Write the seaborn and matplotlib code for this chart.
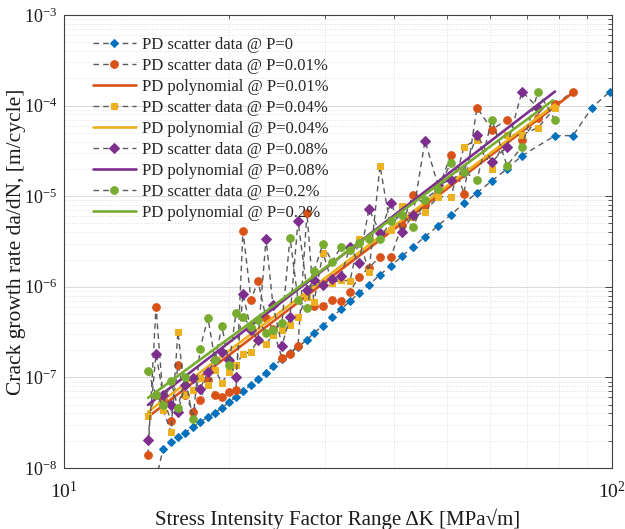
import matplotlib
matplotlib.use("Agg")
import matplotlib.pyplot as plt
from matplotlib.ticker import NullFormatter, FuncFormatter
import numpy as np
import pandas as pd
import seaborn as sns

# ---------------- data ----------------
K_grid = [14.23, 14.72, 15.16, 15.68, 16.14, 16.63, 17.20, 17.71, 18.31, 18.86,
          19.42, 20.00, 20.60, 21.21, 21.94, 22.59, 23.37, 24.06, 24.99, 25.85,
          26.73, 27.76, 28.59, 29.69, 30.84, 32.03, 33.26, 34.54, 36.02, 37.72,
          39.51, 41.39, 43.34, 45.58, 48.14, 50.84, 53.69, 56.70, 60.39, 64.33,
          68.51, 73.28, 78.70, 84.88]

K_p0 = [14.72, 15.16, 15.68, 16.14, 16.63, 17.20, 17.71, 18.31, 18.86, 19.42,
        20.00, 20.60, 21.21, 21.94, 22.59, 23.37, 24.06, 24.99, 25.85, 26.73,
        27.76, 28.59, 29.69, 30.84, 32.03, 33.26, 34.54, 36.02, 37.72, 39.51,
        41.39, 43.34, 45.58, 48.14, 50.84, 53.69, 56.70, 60.39, 64.33, 68.51,
        78.70, 84.88, 91.93, 99.17]
dadn_p0 = [7.4e-9, 1.62e-8, 1.94e-8, 2.20e-8, 2.44e-8, 2.84e-8, 3.22e-8, 3.66e-8, 4.05e-8, 4.60e-8,
           5.36e-8, 6.09e-8, 7.09e-8, 8.26e-8, 9.63e-8, 1.12e-7, 1.34e-7, 1.58e-7, 1.87e-7, 2.17e-7,
           2.60e-7, 3.10e-7, 3.71e-7, 4.60e-7, 5.64e-7, 6.92e-7, 8.58e-7, 1.05e-6, 1.36e-6, 1.71e-6,
           2.17e-6, 2.77e-6, 3.57e-6, 4.72e-6, 6.25e-6, 8.37e-6, 1.09e-5, 1.48e-5, 2.01e-5, 2.80e-5,
           4.66e-5, 4.66e-5, 9.51e-5, 1.43e-4]

dadn_p001 = [1.39e-8, 6.01e-7, 5.94e-8, 3.31e-8, 1.37e-7, 6.41e-8, 4.16e-8, 5.64e-8, 9.38e-8, 6.41e-8,
             6.09e-8, 6.91e-8, 7.28e-8, 4.16e-6, 7.18e-7, 1.16e-6, 4.54e-7, 3.43e-7, 1.64e-7, 1.82e-7,
             2.23e-7, 6.57e-6, 6.17e-7, 6.17e-7, 7.18e-7, 7.00e-7, 8.81e-7, 1.29e-6, 1.62e-6, 2.15e-6,
             2.15e-6, 4.84e-6, 1.04e-5, 8.05e-6, 1.18e-5, 2.87e-5, 1.07e-5, 9.50e-5, 5.43e-5, 7.00e-5,
             4.21e-5, 7.37e-5, 1.03e-4, 1.43e-4]

dadn_p004 = [3.76e-8, 6.41e-8, 4.37e-8, 2.50e-8, 3.18e-7, 6.41e-8, 7.28e-8, 9.87e-8, 8.26e-8, 1.21e-7,
             8.70e-8, 1.15e-7, 1.37e-7, 1.82e-7, 1.91e-7, 2.60e-7, 2.34e-7, 2.95e-7, 3.35e-7, 3.80e-7,
             4.66e-7, 7.75e-7, 6.83e-7, 2.38e-6, 1.11e-6, 1.19e-6, 1.16e-6, 3.39e-6, 1.46e-6, 2.17e-5,
             4.26e-6, 7.85e-6, 5.94e-6, 6.74e-6, 9.87e-6, 9.87e-6, 3.52e-5, 4.21e-5, 2.01e-5, 4.78e-5,
             4.78e-5, 5.71e-5, 9.50e-5]

dadn_p008 = [2.04e-8, 1.82e-7, 6.41e-8, 4.97e-8, 4.16e-8, 8.26e-8, 9.87e-8, 7.46e-8, 1.15e-7, 1.56e-7,
             1.91e-7, 1.56e-7, 1.01e-7, 8.37e-7, 3.35e-7, 2.60e-7, 3.39e-6, 6.32e-7, 2.23e-7, 4.66e-7,
             5.36e-6, 9.27e-7, 1.19e-6, 1.05e-6, 1.23e-6, 1.32e-6, 2.77e-6, 1.84e-6, 7.28e-6, 3.95e-6,
             8.48e-6, 4.05e-6, 6.25e-6, 4.10e-5, 1.32e-5, 1.52e-5, 1.87e-5, 4.78e-5, 2.40e-5, 3.52e-5,
             1.43e-4, 9.50e-5]

dadn_p02 = [1.18e-7, 6.41e-8, 4.97e-8, 9.15e-8, 4.60e-8, 1.01e-7, 3.48e-8, 2.06e-7, 4.54e-7, 1.56e-7,
            3.71e-7, 1.37e-7, 5.16e-7, 4.66e-7, 3.61e-7, 4.32e-7, 3.10e-7, 3.35e-7, 4.00e-7, 3.48e-6,
            7.18e-7, 5.86e-7, 1.50e-6, 2.99e-6, 1.89e-6, 2.77e-6, 2.56e-6, 3.06e-6, 3.39e-6, 3.39e-6,
            5.36e-6, 6.25e-6, 4.60e-6, 9.15e-6, 1.21e-5, 2.34e-5, 1.87e-5, 1.52e-5, 7.00e-5, 2.17e-5,
            3.52e-5, 1.43e-4, 7.00e-5]

# polynomial fits (straight lines in log-log), end points
poly_K_p001 = [14.23, 84.88]
poly_dadn_p001 = [3.66e-8, 1.39e-4]
poly_K_p004 = [14.23, 78.70]
poly_dadn_p004 = [4.16e-8, 1.03e-4]
poly_K_p008 = [14.23, 78.70]
poly_dadn_p008 = [4.97e-8, 1.43e-4]
poly_K_p02 = [14.23, 78.00]
poly_dadn_p02 = [5.94e-8, 1.14e-4]

labels_scatter = ["PD scatter data @ P=0", "PD scatter data @ P=0.01%",
                  "PD scatter data @ P=0.04%", "PD scatter data @ P=0.08%",
                  "PD scatter data @ P=0.2%"]
labels_poly = ["PD polynomial @ P=0.01%", "PD polynomial @ P=0.04%",
               "PD polynomial @ P=0.08%", "PD polynomial @ P=0.2%"]

# ---------------- style ----------------
sns.set_theme(style="white")
plt.rcParams["font.family"] = ["Liberation Serif", "DejaVu Serif"]
plt.rcParams["mathtext.fontset"] = "custom"
plt.rcParams["mathtext.rm"] = "Liberation Serif"
plt.rcParams["mathtext.it"] = "Liberation Serif:italic"
plt.rcParams["mathtext.bf"] = "Liberation Serif:bold"
plt.rcParams["axes.unicode_minus"] = False

c_blue, c_orange, c_yellow, c_purple, c_green = "#0072BD", "#D95319", "#EDB120", "#7E2F8E", "#77AC30"

fig = plt.figure(figsize=(6.25, 5.29), dpi=100)
ax = fig.add_axes([64 / 625, 1 - 468 / 529, 548 / 625, 453 / 529])
ax.set_xscale("log")
ax.set_yscale("log")

def scatter_series(K, v, color, marker, ms, label):
    df = pd.DataFrame({"K": K, "v": v})
    sns.lineplot(data=df, x="K", y="v", ax=ax, estimator=None, sort=False,
                 color="0.35", linestyle="--", dashes=False, linewidth=1.0,
                 marker=marker, markersize=ms, markerfacecolor=color,
                 markeredgecolor=color, label=label)
    ax.lines[-1].set_dashes((4, 3))

def poly_series(K, v, color, label):
    df = pd.DataFrame({"K": K, "v": v})
    sns.lineplot(data=df, x="K", y="v", ax=ax, estimator=None, sort=False,
                 color=color, linewidth=1.9, label=label)

scatter_series(K_p0, dadn_p0, c_blue, "D", 4.5, labels_scatter[0])
scatter_series(K_grid[:len(dadn_p001)], dadn_p001, c_orange, "o", 5.5, labels_scatter[1])
poly_series(poly_K_p001, poly_dadn_p001, c_orange, labels_poly[0])
scatter_series(K_grid[:len(dadn_p004)], dadn_p004, c_yellow, "s", 5.0, labels_scatter[2])
poly_series(poly_K_p004, poly_dadn_p004, c_yellow, labels_poly[1])
scatter_series(K_grid[:len(dadn_p008)], dadn_p008, c_purple, "D", 5.0, labels_scatter[3])
poly_series(poly_K_p008, poly_dadn_p008, c_purple, labels_poly[2])
scatter_series(K_grid[:len(dadn_p02)], dadn_p02, c_green, "o", 5.5, labels_scatter[4])
poly_series(poly_K_p02, poly_dadn_p02, c_green, labels_poly[3])

ax.set_xlim(10, 100)
ax.set_ylim(1e-8, 1e-3)

def pow_fmt(v, pos):
    e = int(round(np.log10(v)))
    return r"$\mathregular{10^{%s}}$" % (("-" + str(-e)) if e < 0 else str(e))

ax.xaxis.set_major_formatter(FuncFormatter(pow_fmt))
ax.yaxis.set_major_formatter(FuncFormatter(pow_fmt))
ax.xaxis.set_minor_formatter(NullFormatter())
ax.yaxis.set_minor_formatter(NullFormatter())

ax.grid(True, which="major", color="0.85", linestyle="-", linewidth=0.7)
ax.grid(True, which="minor", color="0.88", linestyle=":", linewidth=0.7)
ax.set_axisbelow(True)
for s in ax.spines.values():
    s.set_color("0.25")
    s.set_linewidth(0.8)
ax.tick_params(which="both", direction="in", top=True, right=True, colors="0.25",
               labelcolor="0.1", labelsize=14)
ax.tick_params(which="major", length=5, width=0.7)
ax.tick_params(which="minor", length=3, width=0.6)
ax.tick_params(axis="x", pad=9)
ax.tick_params(axis="y", labelsize=13, pad=5)

ax.set_xlabel("Stress Intensity Factor Range \u0394K [MPa\u221am]", fontsize=15, color="0.1", labelpad=5)
ax.set_ylabel("Crack growth rate da/dN, [m/cycle]", fontsize=15.5, color="0.1")
ax.yaxis.set_label_coords(-0.07, 0.5)

leg = ax.legend(loc="upper left", bbox_to_anchor=(0.053, 0.952), frameon=False,
                fontsize=12, handlelength=2.55, handletextpad=0.4,
                labelspacing=0.3, borderpad=0, borderaxespad=0)

fig.savefig("out.png", dpi=100)
